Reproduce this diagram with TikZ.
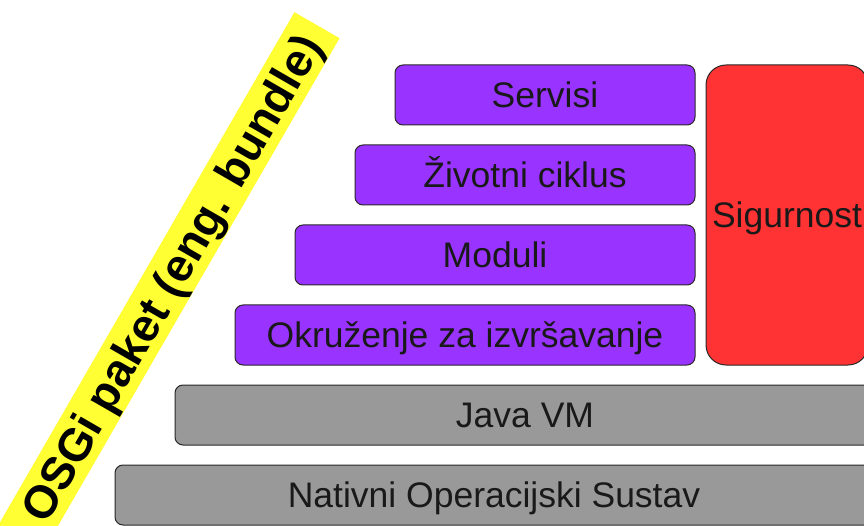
\documentclass[tikz,border=0pt]{standalone}
\usepackage{fontspec}
\setmainfont{Liberation Sans}
\definecolor{purplebox}{RGB}{153,51,255}
\definecolor{redbox}{RGB}{255,51,51}
\definecolor{greybox}{RGB}{153,153,153}
\definecolor{bandyellow}{RGB}{255,255,51}
\definecolor{edge}{RGB}{40,40,40}
\begin{document}
\begin{tikzpicture}[x=1pt,y=1pt,
  layer/.style={draw=edge, line width=1pt, rounded corners=8pt, inner sep=0pt,
    minimum height=60pt, text height=25.4pt, text depth=0pt,
    font=\fontsize{35.5}{40}\selectfont, text=black!90},
  pbox/.style={layer, fill=purplebox},
  gbox/.style={layer, fill=greybox},
  rbox/.style={layer, fill=redbox, rounded corners=20pt}]
\useasboundingbox (0,0) rectangle (864,-526);
\begin{scope}
\clip (0,0) rectangle (864,-526);
\node[fill=bandyellow, rotate=60, minimum width=600pt, minimum height=52pt, inner sep=0pt] (band) at (167,-285) {};
\node[rotate=60, anchor=base, inner sep=0pt, font=\fontsize{46}{50}\selectfont\bfseries] (bandtext) at (185.3,-286.2) {OSGi paket (eng. bundle)};
\node[pbox, minimum width=300pt] (servisi) at (545,-95) {Servisi};
\node[pbox, minimum width=340pt] (ciklus) at (525,-175) {Životni ciklus};
\node[pbox, minimum width=400pt] (moduli) at (495,-255) {Moduli};
\node[pbox, minimum width=460pt] (okruzenje) at (465,-335) {Okruženje za izvršavanje};
\node[rbox, minimum width=162pt, minimum height=300pt] (sigurnost) at (787,-215) {Sigurnost};
\node[gbox, minimum width=700pt] (java) at (525,-415) {Java VM};
\node[gbox, minimum width=758pt] (nativni) at (494,-495) {Nativni Operacijski Sustav};
\end{scope}
\end{tikzpicture}
\end{document}
